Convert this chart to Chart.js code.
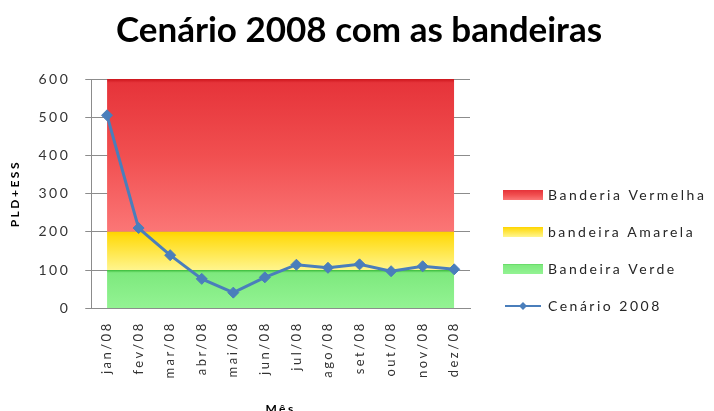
<!DOCTYPE html>
<html>
<head>
<meta charset="utf-8">
<script src="https://cdn.jsdelivr.net/npm/chart.js@4"></script>
<style>
  html, body { margin: 0; padding: 0; background: #ffffff; overflow: hidden; }
  #wrap { position: relative; width: 714px; height: 420px; }
</style>
</head>
<body>
<div id="wrap"><canvas id="grafico"></canvas></div>
<script>
// Meses do cenário
const meses = ['jan/08', 'fev/08', 'mar/08', 'abr/08', 'mai/08', 'jun/08',
               'jul/08', 'ago/08', 'set/08', 'out/08', 'nov/08', 'dez/08'];

// Faixas das bandeiras (empilhadas): verde 0-100, amarela 100-200, vermelha 200-600
const faixaVerde    = [100, 100, 100, 100, 100, 100, 100, 100, 100, 100, 100, 100];
const faixaAmarela  = [100, 100, 100, 100, 100, 100, 100, 100, 100, 100, 100, 100];
const faixaVermelha = [400, 400, 400, 400, 400, 400, 400, 400, 400, 400, 400, 400];

// PLD+ESS do cenário 2008
const cenario2008 = [505, 210, 139, 77, 41, 81, 114, 106, 115, 97, 110, 102];

// Eixo vertical
const eixoY = { min: 0, max: 600, passo: 100 };

const FONTE = 'Lato, "Open Sans", sans-serif';
const AZUL = '#4a7ebb';
const ESPACO_LETRAS = '2.5px';
const LARGURA_LEGENDA = 244;

// Paradas de cor de cada faixa (topo -> base)
const coresVermelha = [[0, '#cc151c'], [0.025, '#e6343a'], [0.5, '#f14f50'], [1, '#fb7676']];
const coresAmarela  = [[0, '#ffd200'], [0.12, '#ffdb12'], [1, '#fff58e']];
const coresVerde    = [[0, '#3cbc3c'], [0.07, '#7ee97e'], [1, '#93f393']];

function gradienteFaixa(paradas, base, topo) {
  return (ctx) => {
    const chart = ctx.chart;
    if (!chart.chartArea) return paradas[paradas.length - 1][1];
    const y = chart.scales.y;
    const g = chart.ctx.createLinearGradient(0, y.getPixelForValue(topo), 0, y.getPixelForValue(base));
    paradas.forEach(([p, c]) => g.addColorStop(p, c));
    return g;
  };
}

// Amostras da legenda
function amostraFaixa(paradas) {
  const cv = document.createElement('canvas');
  cv.width = 40; cv.height = 10;
  const c = cv.getContext('2d');
  const g = c.createLinearGradient(0, 0, 0, 10);
  paradas.forEach(([p, col]) => g.addColorStop(p, col));
  c.fillStyle = g;
  c.fillRect(0, 0, 40, 10);
  return cv;
}
function amostraLinha() {
  const cv = document.createElement('canvas');
  cv.width = 40; cv.height = 12;
  const c = cv.getContext('2d');
  c.strokeStyle = AZUL;
  c.lineWidth = 2;
  c.beginPath(); c.moveTo(2, 6); c.lineTo(38, 6); c.stroke();
  c.fillStyle = AZUL;
  c.beginPath(); c.moveTo(20, 2); c.lineTo(24, 6); c.lineTo(20, 10); c.lineTo(16, 6); c.closePath(); c.fill();
  return cv;
}

const amostras = [amostraFaixa(coresVerde), amostraFaixa(coresAmarela), amostraFaixa(coresVermelha), amostraLinha()];
const ordemLegenda = [2, 1, 0, 3];

// Espaçamento entre letras nos textos dos eixos; o título fica sem espaçamento
const espacamento = {
  id: 'espacamento',
  beforeUpdate(chart) { chart.ctx.letterSpacing = ESPACO_LETRAS; },
  beforeDraw(chart) {
    chart.ctx.letterSpacing = ESPACO_LETRAS;
    const t = chart.titleBlock;
    if (t && !t._semEspaco) {
      const desenhar = t.draw.bind(t);
      t.draw = function (area) {
        const c = chart.ctx;
        const antes = c.letterSpacing;
        c.letterSpacing = '0px';
        desenhar(area);
        c.letterSpacing = antes;
      };
      t._semEspaco = true;
    }
  }
};

// Legenda à direita da área de plotagem
const legendaLateral = {
  id: 'legendaLateral',
  afterDraw(chart) {
    const c = chart.ctx;
    const area = chart.chartArea;
    const x = area.right + 33;
    c.save();
    c.letterSpacing = ESPACO_LETRAS;
    c.font = '14px ' + FONTE;
    c.fillStyle = '#262626';
    c.textBaseline = 'middle';
    c.textAlign = 'left';
    ordemLegenda.forEach((i, k) => {
      const y = area.top + 116 + k * 37;
      const img = amostras[i];
      c.drawImage(img, x, Math.round(y - img.height / 2));
      c.fillText(chart.data.datasets[i].label, x + 45, y);
    });
    c.restore();
  }
};

new Chart(document.getElementById('grafico'), {
  type: 'line',
  plugins: [espacamento, legendaLateral],
  data: {
    labels: meses,
    datasets: [
      {
        label: 'Bandeira Verde', data: faixaVerde, stack: 'bandeiras', order: 1,
        fill: 'origin', backgroundColor: gradienteFaixa(coresVerde, 0, 100),
        borderWidth: 0, pointRadius: 0, tension: 0
      },
      {
        label: 'bandeira Amarela', data: faixaAmarela, stack: 'bandeiras', order: 1,
        fill: '-1', backgroundColor: gradienteFaixa(coresAmarela, 100, 200),
        borderWidth: 0, pointRadius: 0, tension: 0
      },
      {
        label: 'Banderia Vermelha', data: faixaVermelha, stack: 'bandeiras', order: 1,
        fill: '-1', backgroundColor: gradienteFaixa(coresVermelha, 200, 600),
        borderWidth: 0, pointRadius: 0, tension: 0
      },
      {
        label: 'Cenário 2008', data: cenario2008, stack: 'cenario', order: 0,
        fill: false, borderColor: AZUL, backgroundColor: AZUL, borderWidth: 3,
        pointStyle: 'rectRot', pointRadius: 5.5, pointBackgroundColor: AZUL,
        pointBorderColor: AZUL, pointBorderWidth: 1, tension: 0
      }
    ]
  },
  options: {
    responsive: true,
    maintainAspectRatio: false,
    animation: false,
    layout: { padding: { left: 4, right: 0, top: 0, bottom: 0 } },
    plugins: {
      tooltip: { enabled: false },
      legend: { display: false },
      title: {
        display: true,
        text: 'Cenário 2008 com as bandeiras',
        color: '#000000',
        font: { family: FONTE, size: 35, weight: 'bold' },
        padding: { top: 10, bottom: 27 }
      }
    },
    scales: {
      x: {
        stacked: true,
        offset: true,
        grid: { display: false, drawTicks: false },
        border: { display: true, color: '#8c8c8c', width: 1 },
        ticks: {
          color: '#333333', maxRotation: 90, minRotation: 90, autoSkip: false,
          padding: 13, font: { family: FONTE, size: 13 }
        },
        title: {
          display: true, text: 'Mês', color: '#000000',
          font: { family: FONTE, size: 12, weight: 'bold' }, padding: { top: 10, bottom: 4 }
        }
      },
      y: {
        stacked: true,
        min: eixoY.min, max: eixoY.max,
        grid: { color: '#8c8c8c', lineWidth: 1, tickLength: 6, drawTicks: true },
        border: { display: true, color: '#8c8c8c', width: 1 },
        ticks: {
          stepSize: eixoY.passo, color: '#333333', padding: 15,
          font: { family: FONTE, size: 14 }
        },
        title: {
          display: true, text: 'PLD+ESS', color: '#000000',
          font: { family: FONTE, size: 12, weight: 'bold' }, padding: { top: 4, bottom: 1 }
        }
      },
      // Faixa vazia à direita que reserva o espaço da legenda
      legendaEspaco: {
        type: 'linear',
        position: 'right',
        display: true,
        grid: { display: false, drawTicks: false },
        border: { display: false },
        ticks: { display: false },
        afterFit: (escala) => { escala.width = LARGURA_LEGENDA; }
      }
    }
  }
});
</script>
</body>
</html>
